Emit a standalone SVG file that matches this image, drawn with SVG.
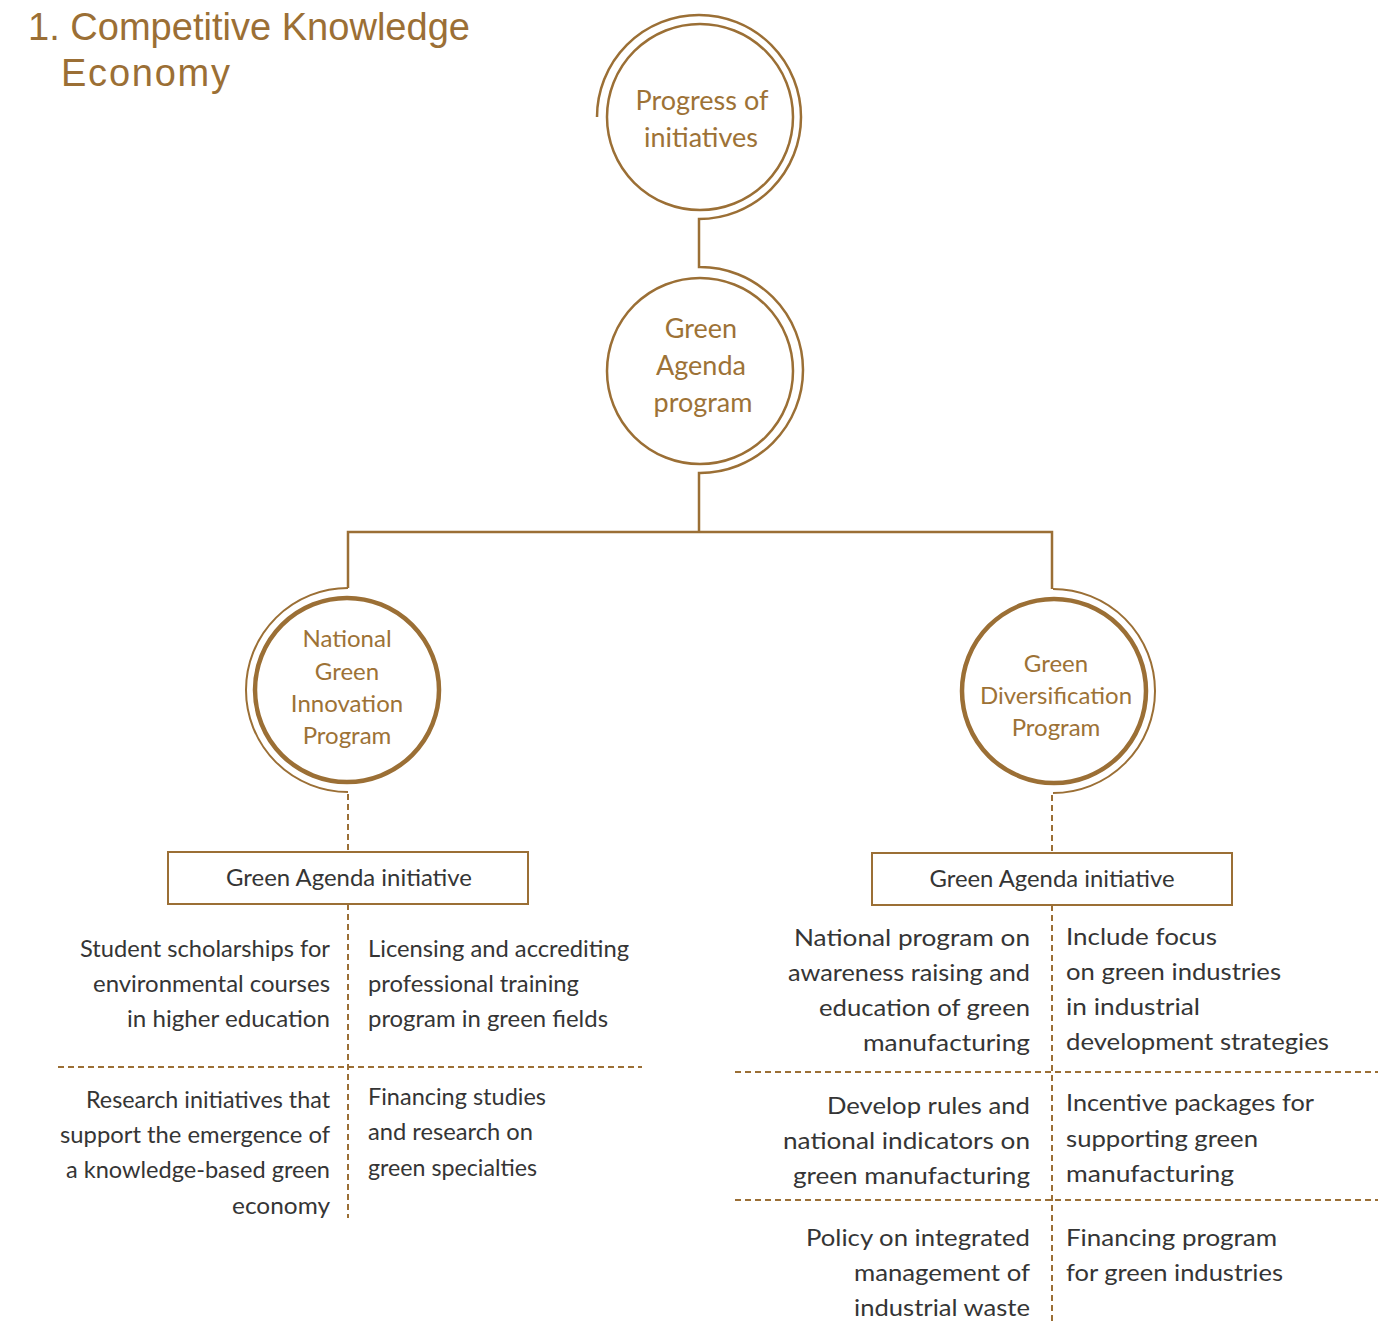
<svg xmlns="http://www.w3.org/2000/svg" width="1391" height="1324" viewBox="0 0 1391 1324">
<style>
.gold{fill:none;stroke:#9b6f35;stroke-width:2.5}
.thick{fill:none;stroke:#9b6f35;stroke-width:4.5}
.thin{fill:none;stroke:#9b6f35;stroke-width:2}
.dash{fill:none;stroke:#9b6f35;stroke-width:2;stroke-dasharray:6 4}
.title{font-family:"Liberation Sans",Arial,sans-serif;font-size:38px;fill:#9b6f35}
.ct{font-family:Lato,"Noto Sans",sans-serif;fill:#9d7236;text-anchor:middle}
.c1{font-size:27px}
.c2{font-size:24px}
.body{font-family:Lato,"Noto Sans",sans-serif;font-size:24px;fill:#353535}
.r{text-anchor:end}
.box{fill:#fff;stroke:#9b6f35;stroke-width:2}
</style>
<rect width="1391" height="1324" fill="#fff"/>
<g id="title">
<text class="title" x="28" y="40" textLength="442" lengthAdjust="spacingAndGlyphs">1. Competitive Knowledge</text>
<text class="title" x="61" y="86" textLength="169" lengthAdjust="spacing">Economy</text>
</g>
<g id="connectors">
<path class="gold" d="M597,117 A102,102 0 1 1 699,219 L699,267 L700,267 A103,103 0 0 1 700,473 L699,473 L699,532"/>
<path class="gold" d="M348,588 L348,532 L1052,532 L1052,589"/>
<path class="thin" d="M348,588 A102,102 0 0 0 348,792"/>
<path class="thin" d="M1053,589 A102,102 0 0 1 1053,793"/>
<path class="dash" d="M348,794 L348,852 M348,904 L348,1218"/>
<path class="dash" d="M58,1067 L642,1067"/>
<path class="dash" d="M1052,795 L1052,853 M1052,905 L1052,1324"/>
<path class="dash" d="M735,1072 L1378,1072 M735,1200 L1378,1200"/>
</g>
<g id="node-progress">
<circle class="gold" cx="700" cy="117" r="93"/>
<text class="ct c1" x="702" y="110">Progress of</text>
<text class="ct c1" x="701" y="147">initiatives</text>
</g>
<g id="node-green-agenda">
<circle class="gold" cx="700" cy="371" r="93"/>
<text class="ct c1" x="701" y="338">Green</text>
<text class="ct c1" x="701" y="375">Agenda</text>
<text class="ct c1" x="703" y="412">program</text>
</g>
<g id="node-ngip">
<circle class="thick" cx="347" cy="690" r="92"/>
<text class="ct c2" x="347" y="647">National</text>
<text class="ct c2" x="347" y="680">Green</text>
<text class="ct c2" x="347" y="712">Innovation</text>
<text class="ct c2" x="347" y="744">Program</text>
</g>
<g id="node-gdp">
<circle class="thick" cx="1054" cy="691" r="92"/>
<text class="ct c2" x="1056" y="672">Green</text>
<text class="ct c2" x="1056" y="704">Diversification</text>
<text class="ct c2" x="1056" y="736">Program</text>
</g>
<g id="box-left">
<rect class="box" x="168" y="852" width="360" height="52"/>
<text class="body" x="349" y="886" text-anchor="middle" textLength="246" lengthAdjust="spacingAndGlyphs">Green Agenda initiative</text>
</g>
<g id="box-right">
<rect class="box" x="872" y="853" width="360" height="52"/>
<text class="body" x="1052" y="887" text-anchor="middle" textLength="245" lengthAdjust="spacingAndGlyphs">Green Agenda initiative</text>
</g>
<g id="left-items">
<text class="body r" x="330" y="957" textLength="250" lengthAdjust="spacingAndGlyphs">Student scholarships for</text>
<text class="body r" x="330" y="992" textLength="237" lengthAdjust="spacingAndGlyphs">environmental courses</text>
<text class="body r" x="330" y="1027" textLength="203" lengthAdjust="spacingAndGlyphs">in higher education</text>
<text class="body" x="368" y="957" textLength="261" lengthAdjust="spacingAndGlyphs">Licensing and accrediting</text>
<text class="body" x="368" y="992" textLength="211" lengthAdjust="spacingAndGlyphs">professional training</text>
<text class="body" x="368" y="1027" textLength="240" lengthAdjust="spacingAndGlyphs">program in green fields</text>
<text class="body r" x="330" y="1108" textLength="244" lengthAdjust="spacingAndGlyphs">Research initiatives that</text>
<text class="body r" x="330" y="1143" textLength="270" lengthAdjust="spacingAndGlyphs">support the emergence of</text>
<text class="body r" x="330" y="1178" textLength="264" lengthAdjust="spacingAndGlyphs">a knowledge-based green</text>
<text class="body r" x="330" y="1214" textLength="98" lengthAdjust="spacingAndGlyphs">economy</text>
<text class="body" x="368" y="1105" textLength="178" lengthAdjust="spacingAndGlyphs">Financing studies</text>
<text class="body" x="368" y="1140" textLength="165" lengthAdjust="spacingAndGlyphs">and research on</text>
<text class="body" x="368" y="1176" textLength="169" lengthAdjust="spacingAndGlyphs">green specialties</text>
</g>
<g id="right-items">
<text class="body r" x="1030" y="946" textLength="236" lengthAdjust="spacingAndGlyphs">National program on</text>
<text class="body r" x="1030" y="981" textLength="242" lengthAdjust="spacingAndGlyphs">awareness raising and</text>
<text class="body r" x="1030" y="1016" textLength="211" lengthAdjust="spacingAndGlyphs">education of green</text>
<text class="body r" x="1030" y="1051" textLength="167" lengthAdjust="spacingAndGlyphs">manufacturing</text>
<text class="body" x="1066" y="945" textLength="151" lengthAdjust="spacingAndGlyphs">Include focus</text>
<text class="body" x="1066" y="980" textLength="215" lengthAdjust="spacingAndGlyphs">on green industries</text>
<text class="body" x="1066" y="1015" textLength="134" lengthAdjust="spacingAndGlyphs">in industrial</text>
<text class="body" x="1066" y="1050" textLength="263" lengthAdjust="spacingAndGlyphs">development strategies</text>
<text class="body r" x="1030" y="1114" textLength="203" lengthAdjust="spacingAndGlyphs">Develop rules and</text>
<text class="body r" x="1030" y="1149" textLength="247" lengthAdjust="spacingAndGlyphs">national indicators on</text>
<text class="body r" x="1030" y="1184" textLength="237" lengthAdjust="spacingAndGlyphs">green manufacturing</text>
<text class="body" x="1066" y="1111" textLength="248" lengthAdjust="spacingAndGlyphs">Incentive packages for</text>
<text class="body" x="1066" y="1147" textLength="192" lengthAdjust="spacingAndGlyphs">supporting green</text>
<text class="body" x="1066" y="1182" textLength="168" lengthAdjust="spacingAndGlyphs">manufacturing</text>
<text class="body r" x="1030" y="1246" textLength="224" lengthAdjust="spacingAndGlyphs">Policy on integrated</text>
<text class="body r" x="1030" y="1281" textLength="176" lengthAdjust="spacingAndGlyphs">management of</text>
<text class="body r" x="1030" y="1316" textLength="176" lengthAdjust="spacingAndGlyphs">industrial waste</text>
<text class="body" x="1066" y="1246" textLength="211" lengthAdjust="spacingAndGlyphs">Financing program</text>
<text class="body" x="1066" y="1281" textLength="217" lengthAdjust="spacingAndGlyphs">for green industries</text>
</g>
</svg>
